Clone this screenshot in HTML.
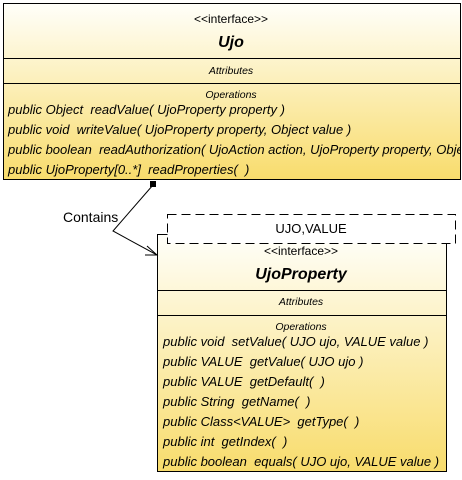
<!DOCTYPE html>
<html><head><style>body{margin:0;background:#fff} text{white-space:pre}</style></head><body>
<svg width="462" height="475" xmlns="http://www.w3.org/2000/svg" font-family="Liberation Sans, sans-serif" xml:space="preserve">
<defs>
<linearGradient id="g" x1="0" y1="0" x2="0" y2="1"><stop offset="0" stop-color="#fffffa"/><stop offset="1" stop-color="#f8dc6c"/></linearGradient>
<clipPath id="c1"><rect x="3" y="3" width="457" height="176"/></clipPath>
</defs>
<rect x="3.5" y="3.5" width="457" height="176" fill="url(#g)" stroke="#000"/>
<line x1="3" y1="58.5" x2="461" y2="58.5" stroke="#000"/>
<line x1="3" y1="83.5" x2="461" y2="83.5" stroke="#000"/>
<g text-anchor="middle" font-size="12">
<text x="231" y="23">&lt;&lt;interface&gt;&gt;</text>
<text x="231" y="47" font-size="16" font-weight="bold" font-style="italic">Ujo</text>
<text x="231" y="74" font-size="10.5" font-style="italic">Attributes</text>
<text x="231" y="98" font-size="10.5" font-style="italic">Operations</text>
</g>
<g font-size="13" font-style="italic" clip-path="url(#c1)">
<text x="8" y="114">public Object  readValue( UjoProperty property )</text>
<text x="8" y="134">public void  writeValue( UjoProperty property, Object value )</text>
<text x="8" y="154">public boolean  readAuthorization( UjoAction action, UjoProperty property, Object value )</text>
<text x="8" y="174">public UjoProperty[0..*]  readProperties(  )</text>
</g>
<rect x="157.5" y="234.5" width="289" height="237" fill="url(#g)" stroke="#000"/>
<line x1="157" y1="290.5" x2="447" y2="290.5" stroke="#000"/>
<line x1="157" y1="315.5" x2="447" y2="315.5" stroke="#000"/>
<rect x="167.5" y="214.5" width="288" height="29" fill="#fff" stroke="#000" stroke-dasharray="9,5"/>
<text x="311" y="233" font-size="13" text-anchor="middle">UJO,VALUE</text>
<g text-anchor="middle" font-size="12">
<text x="301" y="255">&lt;&lt;interface&gt;&gt;</text>
<text x="301" y="279" font-size="16" font-weight="bold" font-style="italic">UjoProperty</text>
<text x="301" y="305" font-size="10.5" font-style="italic">Attributes</text>
<text x="301" y="330" font-size="10.5" font-style="italic">Operations</text>
</g>
<g font-size="13" font-style="italic">
<text x="163" y="346">public void  setValue( UJO ujo, VALUE value )</text>
<text x="163" y="366">public VALUE  getValue( UJO ujo )</text>
<text x="163" y="386">public VALUE  getDefault(  )</text>
<text x="163" y="406">public String  getName(  )</text>
<text x="163" y="426">public Class&lt;VALUE&gt;  getType(  )</text>
<text x="163" y="446">public int  getIndex(  )</text>
<text x="163" y="466">public boolean  equals( UJO ujo, VALUE value )</text>
</g>
<rect x="150" y="181" width="6" height="6" fill="#000"/>
<polyline points="153,185 113,231 157,255" fill="none" stroke="#000"/>
<polyline points="147,246 157,255 145,255" fill="none" stroke="#000"/>
<text x="63" y="222" font-size="14">Contains</text>
</svg>
</body></html>
